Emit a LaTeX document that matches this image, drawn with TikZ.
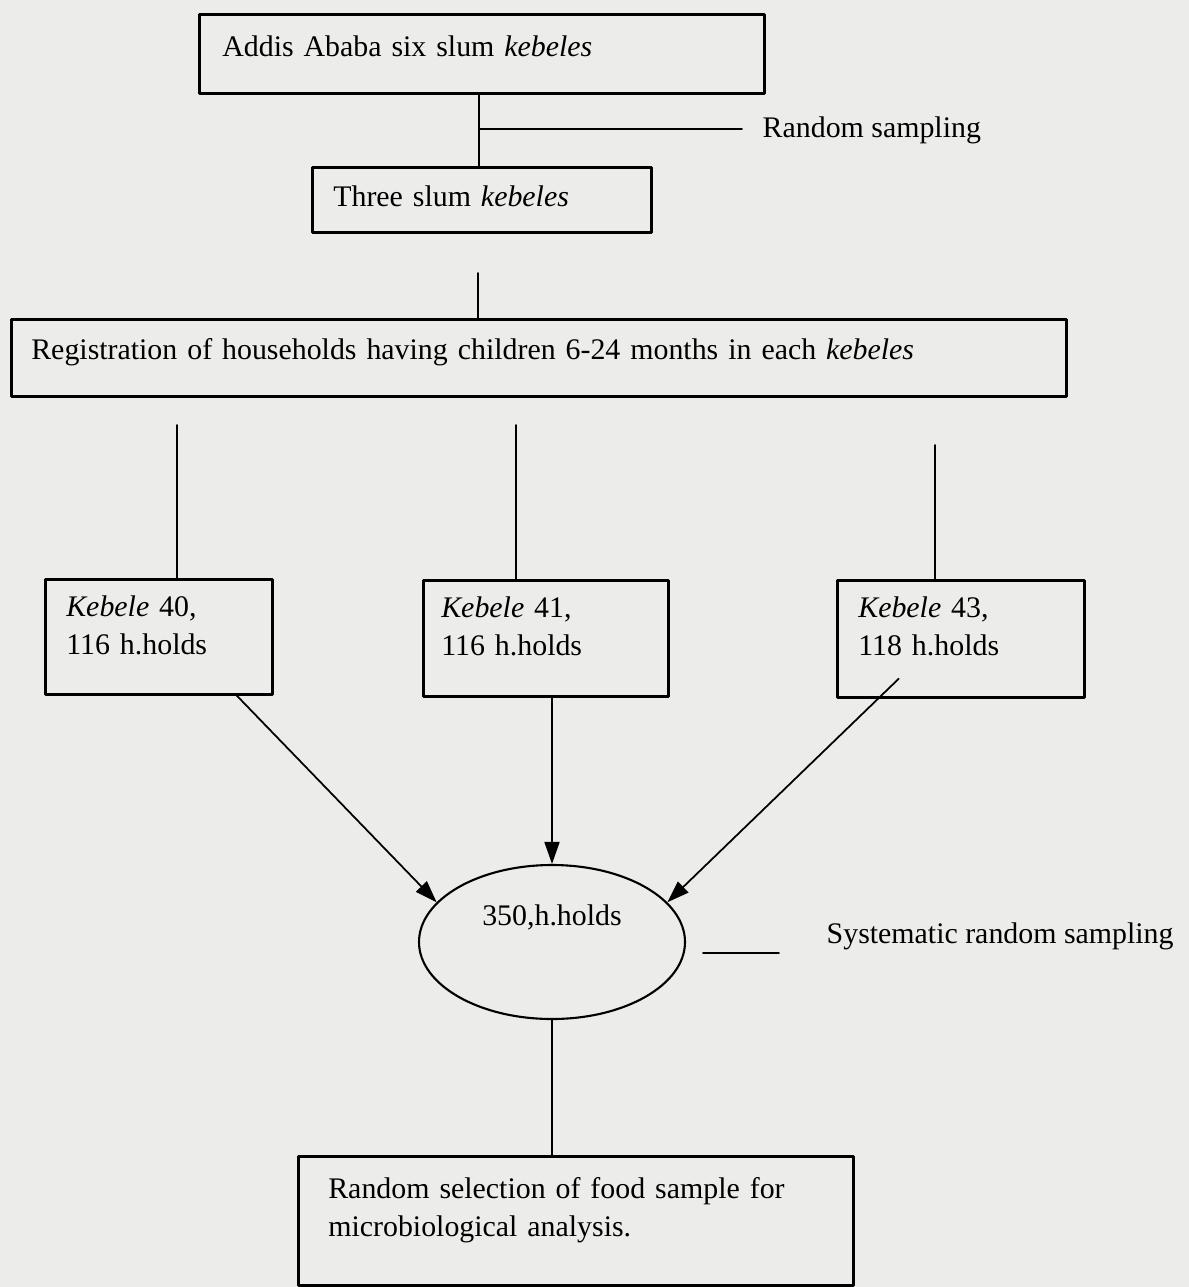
\documentclass[tikz,border=0pt]{standalone}
\usepackage{fontspec}
\setmainfont{Liberation Serif}
\usetikzlibrary{arrows.meta,shapes.geometric}

\begin{document}
\begin{tikzpicture}[line cap=round, line join=round,
  font=\fontsize{8.5}{10.8}\selectfont,
  box/.style={draw, line width=0.75pt, anchor=north west, inner ysep=0pt, align=left},
  link/.style={line width=0.5pt},
  arr/.style={line width=0.5pt, -{Triangle[length=2.2mm,width=1.5mm]}}]
  \definecolor{scan}{RGB}{236,236,234}
  \fill[scan] (0,0) rectangle (11.89,-12.87);
  \useasboundingbox (0,0) rectangle (11.89,-12.87);
  % sampling stages
  \node[box, inner xsep=0.23cm, text width=5.19cm, text height=0.42cm, text depth=0.37cm] (addis) at (1.98,-0.13) {Addis Ababa six slum \textit{kebeles}};
  \node[box, inner xsep=0.21cm, text width=2.97cm, text height=0.39cm, text depth=0.26cm] (three) at (3.11,-1.66) {Three slum \textit{kebeles}};
  \node[box, inner xsep=0.20cm, text width=10.15cm, text height=0.40cm, text depth=0.37cm] (reg) at (0.10,-3.18) {Registration of households having children 6-24 months in each \textit{kebeles}};
  \node[box, inner xsep=0.21cm, text width=1.85cm, text height=0.37cm, text depth=0.78cm] (k40) at (0.44,-5.78) {\textit{Kebele} 40,\\116 h.holds};
  \node[box, inner xsep=0.18cm, text width=2.09cm, text height=0.37cm, text depth=0.79cm] (k41) at (4.22,-5.79) {\textit{Kebele} 41,\\116 h.holds};
  \node[box, inner xsep=0.21cm, text width=2.05cm, text height=0.37cm, text depth=0.80cm] (k43) at (8.36,-5.79) {\textit{Kebele} 43,\\118 h.holds};
  \node[ellipse, draw, line width=0.6pt, inner sep=0pt, minimum width=2.66cm, minimum height=1.54cm, text height=0.2cm, text depth=0.54cm] (pool) at (5.52,-9.42) {350,h.holds};
  \node[box, inner xsep=0.30cm, text width=4.95cm, text height=0.42cm, text depth=0.87cm] (food) at (2.97,-11.55) {Random selection of food sample for\\microbiological analysis.};
  % side labels
  \node[anchor=base west, inner sep=0pt] (rslabel) at (7.62,-1.37) {Random sampling};
  \node[anchor=base west, inner sep=0pt] (syslabel) at (8.26,-9.43) {Systematic random sampling};
  % connectors
  \coordinate (spine) at (4.79,0);
  \coordinate (rsfork) at (4.79,-1.29);
  \coordinate (regtop) at (4.78,-2.73);
  \coordinate (dropA) at (1.77,-4.25);
  \coordinate (dropB) at (5.16,-4.25);
  \coordinate (dropC) at (9.35,-4.45);
  \coordinate (sysdash) at (7.03,-9.53);
  \draw[link] (addis.south -| spine) -- (three.north -| spine);
  \draw[link] (rsfork) -- ([xshift=-2mm]rslabel.west |- rsfork);
  \draw[link] (regtop) -- (regtop |- reg.north);
  \draw[link] (dropA) -- (dropA |- k40.north);
  \draw[link] (dropB) -- (dropB |- k41.north);
  \draw[link] (dropC) -- (dropC |- k43.north);
  \draw[arr] ([xshift=0.78cm]k40.south) -- (pool.161);
  \draw[arr] (k41.south -| pool.north) -- (pool.north);
  \draw[arr] ([shift={(-0.62,0.2)}]k43.south) -- (pool.19);
  \draw[link] (pool.south) -- (pool.south |- food.north);
  \draw[link] (sysdash) -- ++(0.76,0);
\end{tikzpicture}
\end{document}
